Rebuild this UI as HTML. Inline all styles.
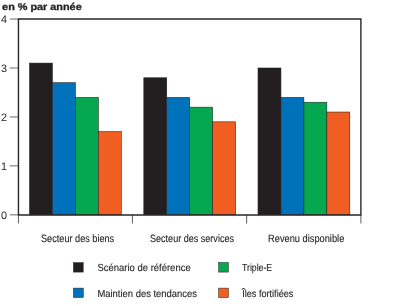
<!DOCTYPE html>
<html><head><meta charset="utf-8">
<style>
html,body{margin:0;padding:0;background:#fff;width:400px;height:306px;overflow:hidden}
svg{display:block;will-change:transform}
text{font-family:"Liberation Sans",sans-serif;fill:#231f20;text-rendering:geometricPrecision}
</style></head><body>
<svg width="400" height="306" viewBox="0 0 400 306" xmlns="http://www.w3.org/2000/svg">
<text x="2.1" y="10.1" font-size="9.9" font-weight="bold" stroke="#231f20" stroke-width="0.3" textLength="79.6" lengthAdjust="spacingAndGlyphs">en % par année</text>
<g font-size="10.8"><text x="0.9" y="218.50">0</text><text x="0.9" y="169.56">1</text><text x="0.9" y="120.63">2</text><text x="0.9" y="71.69">3</text><text x="0.9" y="22.75">4</text></g>
<g stroke="#7d7d7d" stroke-width="1.15"><line x1="9.8" y1="214.80" x2="18.4" y2="214.80"/><line x1="9.8" y1="165.86" x2="18.4" y2="165.86"/><line x1="9.8" y1="116.93" x2="18.4" y2="116.93"/><line x1="9.8" y1="67.99" x2="18.4" y2="67.99"/><line x1="9.8" y1="19.05" x2="18.4" y2="19.05"/></g>
<g stroke="#5e5e5e" stroke-width="1"><line x1="18.45" y1="214.8" x2="18.45" y2="223.5"/><line x1="132.4" y1="214.8" x2="132.4" y2="223.5"/><line x1="246.65" y1="214.8" x2="246.65" y2="223.5"/><line x1="360.9" y1="214.8" x2="360.9" y2="223.5"/></g>
<g stroke="#231f20" stroke-width="0.55"><rect x="29.50" y="63.09" width="22.95" height="151.71" fill="#231f20"/><rect x="52.45" y="82.67" width="22.95" height="132.13" fill="#0072bc"/><rect x="75.40" y="97.35" width="22.95" height="117.45" fill="#05a74f"/><rect x="98.35" y="131.61" width="22.95" height="83.19" fill="#f15e22"/><rect x="143.80" y="77.78" width="22.95" height="137.02" fill="#231f20"/><rect x="166.75" y="97.35" width="22.95" height="117.45" fill="#0072bc"/><rect x="189.70" y="107.14" width="22.95" height="107.66" fill="#05a74f"/><rect x="212.65" y="121.82" width="22.95" height="92.98" fill="#f15e22"/><rect x="258.00" y="67.99" width="22.95" height="146.81" fill="#231f20"/><rect x="280.95" y="97.35" width="22.95" height="117.45" fill="#0072bc"/><rect x="303.90" y="102.24" width="22.95" height="112.56" fill="#05a74f"/><rect x="326.85" y="112.03" width="22.95" height="102.77" fill="#f15e22"/></g>
<path d="M18.45 19.05H360.9V215H18.45Z" fill="none" stroke="#2a2627" stroke-width="1.4"/>
<g font-size="10.6" stroke="#231f20" stroke-width="0.12">
<text x="41" y="242.1" textLength="73.2" lengthAdjust="spacingAndGlyphs">Secteur des biens</text>
<text x="150" y="242.1" textLength="84" lengthAdjust="spacingAndGlyphs">Secteur des services</text>
<text x="268.1" y="242.1" textLength="76.2" lengthAdjust="spacingAndGlyphs">Revenu disponible</text>
</g>
<g stroke="#231f20" stroke-width="0.5">
<rect x="73.4" y="262.6" width="9.8" height="9.5" fill="#231f20"/>
<rect x="73.4" y="288.1" width="9.9" height="9.4" fill="#0072bc"/>
<rect x="218.6" y="262.5" width="9.8" height="9.6" fill="#05a74f"/>
<rect x="218.6" y="288.1" width="9.8" height="9.5" fill="#f15e22"/>
</g>
<g font-size="10.2" stroke="#231f20" stroke-width="0.12">
<text x="97.4" y="270.8" textLength="93.3" lengthAdjust="spacingAndGlyphs">Scénario de référence</text>
<text x="242" y="270.8" textLength="30.2" lengthAdjust="spacingAndGlyphs">Triple-E</text>
<text x="97.4" y="296.7" textLength="99.6" lengthAdjust="spacingAndGlyphs">Maintien des tendances</text>
<text x="242.2" y="296.7" textLength="51.2" lengthAdjust="spacingAndGlyphs">Îles fortifiées</text>
</g>
</svg>
</body></html>
